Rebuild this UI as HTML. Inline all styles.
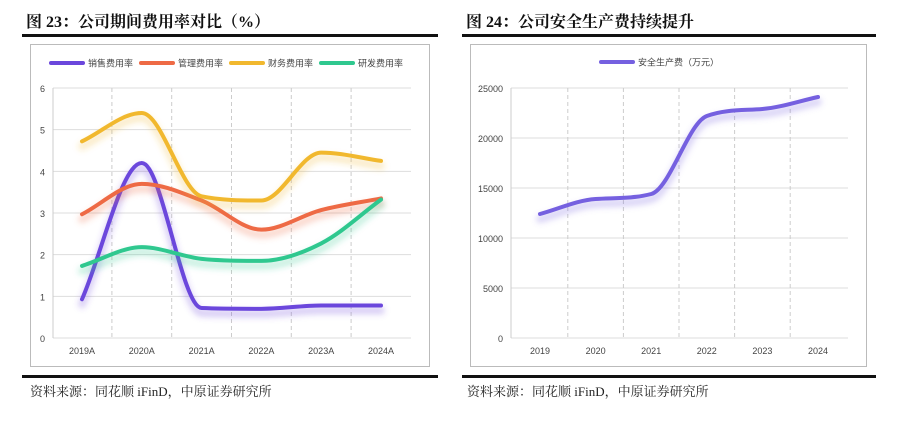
<!DOCTYPE html>
<html><head><meta charset="utf-8"><style>
body{margin:0;background:#fff;width:909px;height:417px;overflow:hidden;font-family:"Liberation Sans","Noto Sans CJK SC",sans-serif}
svg text{font-family:"Liberation Sans","Noto Sans CJK SC",sans-serif}
svg text.serif{font-family:"Liberation Serif","Noto Serif CJK SC",serif}
</style></head><body>
<svg id="s" width="909" height="417" xmlns="http://www.w3.org/2000/svg">
<defs><filter id="blur" x="-10%" y="-30%" width="120%" height="160%"><feGaussianBlur stdDeviation="3"/></filter></defs>
<text class="serif" x="26" y="27" font-size="16" font-weight="bold" fill="#111">图 23：公司期间费用率对比（%）</text>
<rect x="22" y="34" width="416" height="3" fill="#111"/>
<rect x="30.5" y="44.5" width="399" height="322" fill="#fff" stroke="#bbb"/>
<rect x="22" y="375" width="416" height="3" fill="#111"/>
<text class="serif" x="30" y="396" font-size="13" fill="#222">资料来源：同花顺 iFinD，中原证券研究所</text>

<text class="serif" x="466" y="27" font-size="16" font-weight="bold" fill="#111">图 24：公司安全生产费持续提升</text>
<rect x="462" y="34" width="414" height="3" fill="#111"/>
<rect x="470.5" y="44.5" width="396" height="322" fill="#fff" stroke="#bbb"/>
<rect x="462" y="375" width="414" height="3" fill="#111"/>
<text class="serif" x="467" y="396" font-size="13" fill="#222">资料来源：同花顺 iFinD，中原证券研究所</text>
<g id="L"></g><g id="R"></g>
</svg>
<script>
const catsL=["2019A","2020A","2021A","2022A","2023A","2024A"];
const sales=[0.93,4.2,0.72,0.7,0.78,0.78];
const mgmt=[2.97,3.7,3.3,2.6,3.07,3.35];
const fin=[4.72,5.4,3.4,3.3,4.45,4.25];
const rd=[1.73,2.18,1.9,1.85,2.27,3.32];
const namesL=["销售费用率","管理费用率","财务费用率","研发费用率"];
const ticksL=[0,1,2,3,4,5,6];
const catsR=["2019","2020","2021","2022","2023","2024"];
const safety=[12400,13900,14400,22200,22900,24100];
const ticksR=[0,5000,10000,15000,20000,25000];
const NS="http://www.w3.org/2000/svg";
function mk(p,t,a){const e=document.createElementNS(NS,t);for(const k in a)e.setAttribute(k,a[k]);p.appendChild(e);return e;}
function mono(pts){const n=pts.length,d=[],m=[];
 for(let i=0;i<n-1;i++)d.push((pts[i+1][1]-pts[i][1])/(pts[i+1][0]-pts[i][0]));
 m[0]=d[0];m[n-1]=d[n-2];
 for(let i=1;i<n-1;i++)m[i]=(d[i-1]*d[i]<=0)?0:(d[i-1]+d[i])/2;
 for(let i=0;i<n-1;i++){if(d[i]===0){m[i]=0;m[i+1]=0;continue;}const a=m[i]/d[i],b=m[i+1]/d[i],s=a*a+b*b;if(s>9){const t=3/Math.sqrt(s);m[i]=t*a*d[i];m[i+1]=t*b*d[i];}}
 let p="M"+pts[0][0]+","+pts[0][1];
 for(let i=0;i<n-1;i++){const h=(pts[i+1][0]-pts[i][0])/3;p+=" C"+(pts[i][0]+h)+","+(pts[i][1]+m[i]*h)+" "+(pts[i+1][0]-h)+","+(pts[i+1][1]-m[i+1]*h)+" "+pts[i+1][0]+","+pts[i+1][1];}
 return p;}
function chart(g,o){
 const x=i=>o.x0+i*o.step, y=v=>o.yb-(v-o.min)/(o.max-o.min)*(o.yb-o.yt);
 o.ticks.forEach(t=>{const l=mk(g,"line",{x1:o.px0,x2:o.px1,y1:y(t),y2:y(t),stroke:"#ddd"});
  const tx=mk(g,"text",{x:o.px0-8,y:y(t)+4,"font-size":9,fill:"#444","text-anchor":"end"});tx.textContent=t;});
 o.cats.forEach((c,i)=>{if(i<o.cats.length-1){const xx=x(i)+o.step*o.dash;const l=mk(g,"line",{x1:xx,x2:xx,y1:o.yt,y2:o.yb,stroke:"#ccc","stroke-dasharray":"4,3"});}
  const tx=mk(g,"text",{x:x(i),y:o.yb+16,"font-size":9,fill:"#444","text-anchor":"middle"});tx.textContent=c;});
 mk(g,"line",{x1:o.px0,x2:o.px0,y1:o.yt,y2:o.yb,stroke:"#ccc"});
 o.series.forEach((s,k)=>{const pts=s.v.map((v,i)=>[x(i),y(v)]);
  const sh=mk(g,"path",{d:mono(pts),fill:"none",stroke:s.c,"stroke-width":8,"stroke-opacity":0.25,transform:"translate(0,5)","stroke-linecap":"round",filter:"url(#blur)"});
  const p=mk(g,"path",{d:mono(pts),fill:"none",stroke:s.c,"stroke-width":4,"stroke-linecap":"round"});
  const lx=o.leg[k];const ll=mk(g,"line",{x1:lx,x2:lx+32,y1:o.ly,y2:o.ly,stroke:s.c,"stroke-width":4,"stroke-linecap":"round"});
  const lt=mk(g,"text",{x:lx+37,y:o.ly+3.5,"font-size":9,fill:"#444"});lt.textContent=s.n;});
}
chart(document.getElementById("L"),{x0:82,step:59.8,dash:0.5,yb:338,yt:88,min:0,max:6,px0:53,px1:411,ticks:ticksL,cats:catsL,ly:63,leg:[51,141,231,321],
 series:[{v:sales,c:"#6b47dc",n:namesL[0]},{v:mgmt,c:"#ee6a45",n:namesL[1]},{v:fin,c:"#f1b82e",n:namesL[2]},{v:rd,c:"#2fc88f",n:namesL[3]}]});
chart(document.getElementById("R"),{x0:540,step:55.6,dash:0.5,yb:338,yt:88,min:0,max:25000,px0:511,px1:848,ticks:ticksR,cats:catsR,ly:62,leg:[601],
 series:[{v:safety,c:"#7560e0",n:"安全生产费（万元）"}]});
</script>
</body></html>
